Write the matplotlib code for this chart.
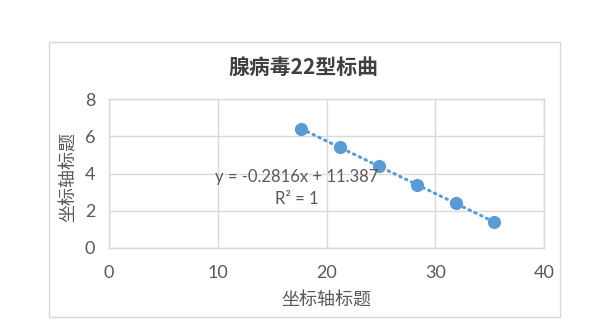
import numpy as np
import matplotlib
matplotlib.use("Agg")
import matplotlib.pyplot as plt
from matplotlib.patches import Rectangle

# data
conc = [17.7, 21.2, 24.8, 28.3, 31.9, 35.4]
ct = [6.4, 5.4, 4.4, 3.4, 2.4, 1.4]
xticks = [0, 10, 20, 30, 40]
yticks = [0, 2, 4, 6, 8]
title = "腺病毒22型标曲"
axis_title = "坐标轴标题"
eq_text = "y = -0.2816x + 11.387\nR² = 1"

blue = "#5B9BD5"
grid = "#D9D9D9"
txt = "#595959"
cjk = ["Noto Sans CJK SC", "DejaVu Sans"]
num = ["Lato", "Noto Sans CJK SC", "DejaVu Sans"]

W, H = 601, 335
fig = plt.figure(figsize=(W / 100, H / 100), dpi=100)
fig.patch.set_facecolor("white")

# chart border
fig.patches.append(Rectangle((49 / W, 1 - 317 / H), 511 / W, 275 / H,
                             transform=fig.transFigure, fill=False,
                             edgecolor=grid, linewidth=1))

ax = fig.add_axes([109 / W, 1 - 248 / H, 435 / W, 149 / H])
ax.set_xlim(0, 40)
ax.set_ylim(0, 8)
ax.set_xticks(xticks)
ax.set_yticks(yticks)
ax.grid(True, color=grid, linewidth=1)
ax.set_axisbelow(True)
for s in ax.spines.values():
    s.set_color(grid)
    s.set_linewidth(1)
ax.tick_params(length=0, colors=txt, labelsize=13)
ax.tick_params(axis="x", pad=12)
ax.tick_params(axis="y", pad=10)
for lab in ax.get_xticklabels() + ax.get_yticklabels():
    lab.set_family(num)

# trendline
k, b = np.polyfit(conc, ct, 1)
xs = np.array([min(conc), max(conc)])
ax.plot(xs, k * xs + b, color=blue, linewidth=2.2,
        linestyle=(0, (0.5, 1.6)), dash_capstyle="round", zorder=2)
ax.plot(conc, ct, "o", color=blue, markersize=8.5, zorder=3)

ax.text(17.3, 3.22, eq_text, ha="center", va="center", color=txt,
        fontsize=12, family=num, linespacing=1.45)

fig.text(304 / W, 1 - 67.5 / H, title, ha="center", va="center",
         fontsize=15, fontweight="bold", color="#404040", family=cjk)
fig.text(326.5 / W, 1 - 300 / H, axis_title, ha="center", va="center",
         fontsize=13, color=txt, family=cjk)
fig.text(68 / W, 1 - 177 / H, axis_title, ha="center", va="center",
         rotation=90, fontsize=13, color=txt, family=cjk)

fig.savefig("out.png", dpi=100)
